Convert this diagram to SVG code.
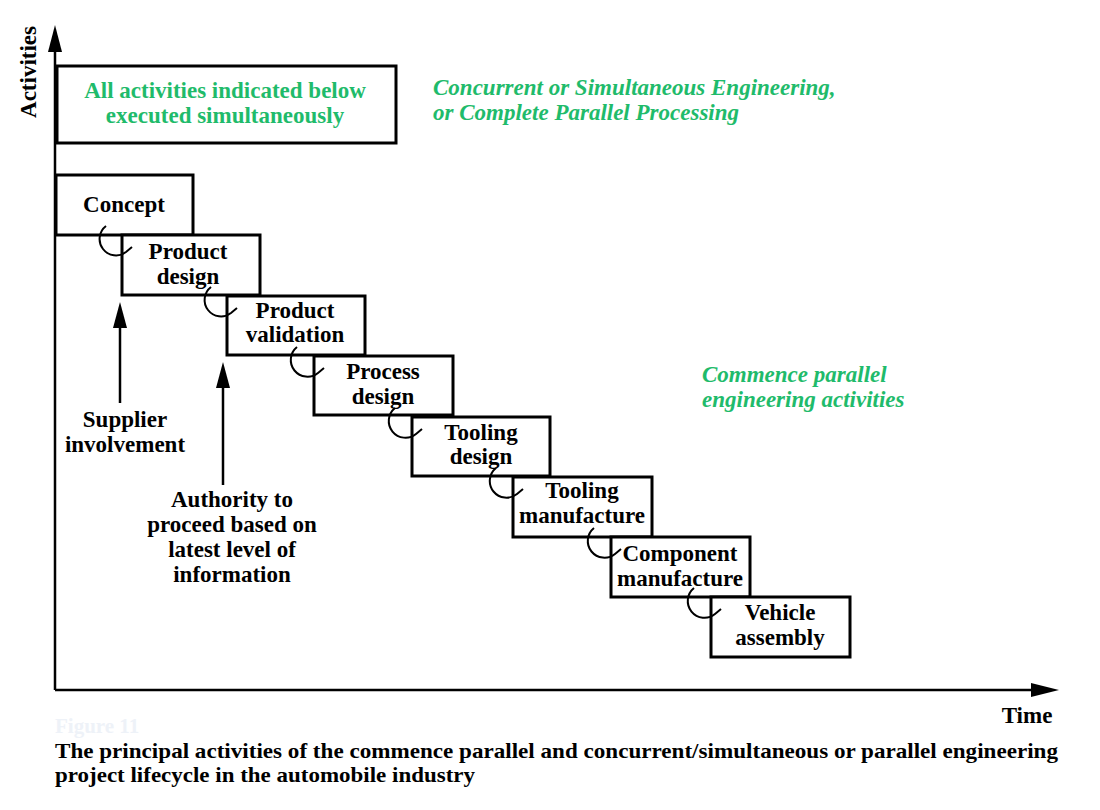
<svg xmlns="http://www.w3.org/2000/svg" width="1100" height="810" viewBox="0 0 1100 810">
<defs>
<style>
.box{fill:#fff;stroke:#000;stroke-width:3}
.lbl{font-family:"Liberation Serif","Times New Roman",serif;font-weight:bold;font-size:23px;fill:#000;text-anchor:middle}
.grn{font-family:"Liberation Serif","Times New Roman",serif;font-weight:bold;font-size:23px;fill:#1fbb6b}
.it{font-style:italic}
.hook{fill:none;stroke:#000;stroke-width:2}
.ax{stroke:#000;stroke-width:2.5;fill:none}
.cap{font-family:"Liberation Serif","Times New Roman",serif;font-weight:bold;font-size:21px;fill:#000}
</style>
</defs>
<rect width="1100" height="810" fill="#fff"/>
<g id="axes">
<line class="ax" x1="55" y1="690" x2="55" y2="48"/>
<polygon points="55,25 48,52 62,52" fill="#000"/>
<line class="ax" x1="55" y1="690" x2="1034" y2="690"/>
<polygon points="1059,690 1031,683 1031,697" fill="#000"/>
<text class="lbl" transform="translate(36,72) rotate(-90)">Activities</text>
<text class="lbl" x="1027" y="723">Time</text>
</g>
<g id="all-activities">
<rect class="box" x="57" y="66" width="339" height="77"/>
<text class="grn" x="225" y="98" text-anchor="middle">All activities indicated below</text>
<text class="grn" x="225" y="123" text-anchor="middle">executed simultaneously</text>
</g>
<g id="concurrent-label">
<text class="grn it" x="433" y="95">Concurrent or Simultaneous Engineering,</text>
<text class="grn it" x="433" y="120">or Complete Parallel Processing</text>
</g>
<g id="commence-label">
<text class="grn it" x="702" y="382">Commence parallel</text>
<text class="grn it" x="702" y="407">engineering activities</text>
</g>
<g id="concept">
<rect class="box" x="56" y="175" width="137" height="60"/>
<text class="lbl" x="124" y="212">Concept</text>
</g>
<g id="product-design">
<rect class="box" x="122" y="235" width="138" height="60"/>
<text class="lbl" x="188" y="259">Product</text>
<text class="lbl" x="188" y="284">design</text>
</g>
<g id="product-validation">
<rect class="box" x="227" y="296" width="138" height="59"/>
<text class="lbl" x="295" y="318">Product</text>
<text class="lbl" x="295" y="342">validation</text>
</g>
<g id="process-design">
<rect class="box" x="314" y="356" width="139" height="59"/>
<text class="lbl" x="383" y="379">Process</text>
<text class="lbl" x="383" y="404">design</text>
</g>
<g id="tooling-design">
<rect class="box" x="412" y="417" width="138" height="59"/>
<text class="lbl" x="481" y="440">Tooling</text>
<text class="lbl" x="481" y="464">design</text>
</g>
<g id="tooling-manufacture">
<rect class="box" x="513" y="477" width="139" height="60"/>
<text class="lbl" x="582" y="498">Tooling</text>
<text class="lbl" x="582" y="523">manufacture</text>
</g>
<g id="component-manufacture">
<rect class="box" x="611" y="537" width="139" height="60"/>
<text class="lbl" x="680" y="561">Component</text>
<text class="lbl" x="680" y="586">manufacture</text>
</g>
<g id="vehicle-assembly">
<rect class="box" x="711" y="597" width="139" height="60"/>
<text class="lbl" x="780" y="620">Vehicle</text>
<text class="lbl" x="780" y="645">assembly</text>
</g>
<g id="supplier-involvement">
<text class="lbl" x="125" y="427">Supplier</text>
<text class="lbl" x="125" y="452">involvement</text>
</g>
<g id="authority">
<text class="lbl" x="232" y="507">Authority to</text>
<text class="lbl" x="232" y="532">proceed based on</text>
<text class="lbl" x="232" y="557">latest level of</text>
<text class="lbl" x="232" y="582">information</text>
</g>
<g id="connectors">
<path class="hook" d="M106,226 A15,15 0 1 0 126,252 l6,-5"/>
<path class="hook" d="M211,287 A15,15 0 1 0 231,313 l6,-5"/>
<path class="hook" d="M297,347 A15,15 0 1 0 318,373 l6,-5"/>
<path class="hook" d="M395,408 A15,15 0 1 0 416,434 l6,-5"/>
<path class="hook" d="M496,468 A15,15 0 1 0 517,494 l6,-5"/>
<path class="hook" d="M594,528 A15,15 0 1 0 615,554 l6,-5"/>
<path class="hook" d="M694,588 A15,15 0 1 0 715,614 l6,-5"/>
<line class="ax" x1="120" y1="403" x2="120" y2="320"/>
<polygon points="120,302 113,328 127,328" fill="#000"/>
<line class="ax" x1="223" y1="485" x2="223" y2="380"/>
<polygon points="223,362 216,388 230,388" fill="#000"/>
</g>
<g id="caption">
<text class="cap" x="55" y="733" style="fill:#eef2f8">Figure 11</text>
<text class="cap" x="55" y="758" textLength="1003" lengthAdjust="spacingAndGlyphs">The principal activities of the commence parallel and concurrent/simultaneous or parallel engineering</text>
<text class="cap" x="55" y="782" textLength="420" lengthAdjust="spacingAndGlyphs">project lifecycle in the automobile industry</text>
</g>
</svg>
